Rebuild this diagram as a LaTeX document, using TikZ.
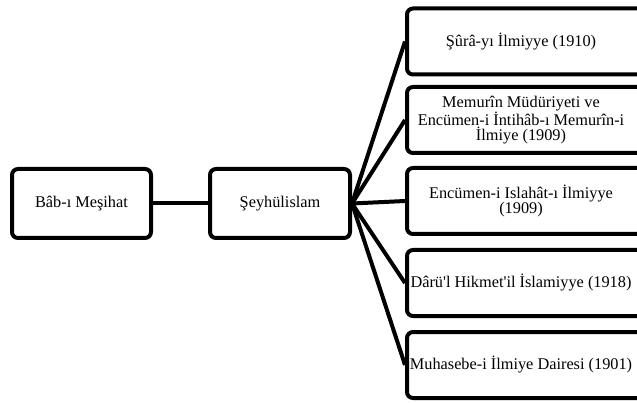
\documentclass[tikz,border=0pt]{standalone}
\usepackage{fontspec}
\setmainfont{Liberation Serif}

\tikzset{
	kutu/.style={draw=black, line width=4pt, rounded corners=6pt, fill=white,
		align=center, minimum height=66pt, inner sep=1pt},
	bag/.style={draw=black, line width=4pt}
}

\begin{document}
\begin{tikzpicture}[x=1pt, y=-1pt, font=\fontsize{16.3}{15.5}\selectfont]
		\useasboundingbox (0,0) rectangle (637,403);
		\node[kutu, minimum width=139pt, minimum height=69pt] (bab) at (81.5,203.5) {Bâb-ı Meşihat};
		\node[kutu, minimum width=140pt, minimum height=69pt] (seyh) at (280,203.5) {Şeyhülislam};
		\draw[bag] (bab) -- (seyh);
		% sagdaki kutular resmin kenarinda kesiliyor
		\foreach \i/\y/\metin in {1/41.5/{Şûrâ-yı İlmiyye (1910)},
			2/120/{Memurîn Müdüriyeti ve\\Encümen-i İntihâb-ı Memurîn-i\\İlmiye (1909)},
			3/201/{Encümen-i Islahât-ı İlmiyye\\(1909)},
			4/283/{Dârü\textquotesingle l Hikmet\textquotesingle il İslamiyye (1918)},
			5/365/{Muhasebe-i İlmiye Dairesi (1901)}} {
			\node[kutu, minimum width=240pt,
				label={[align=center, xshift=-6pt]center:\metin}] (r\i) at (527,\y) {};
			\draw[bag] (seyh.east) -- (r\i.west);
		}
	\end{tikzpicture}
\end{document}
